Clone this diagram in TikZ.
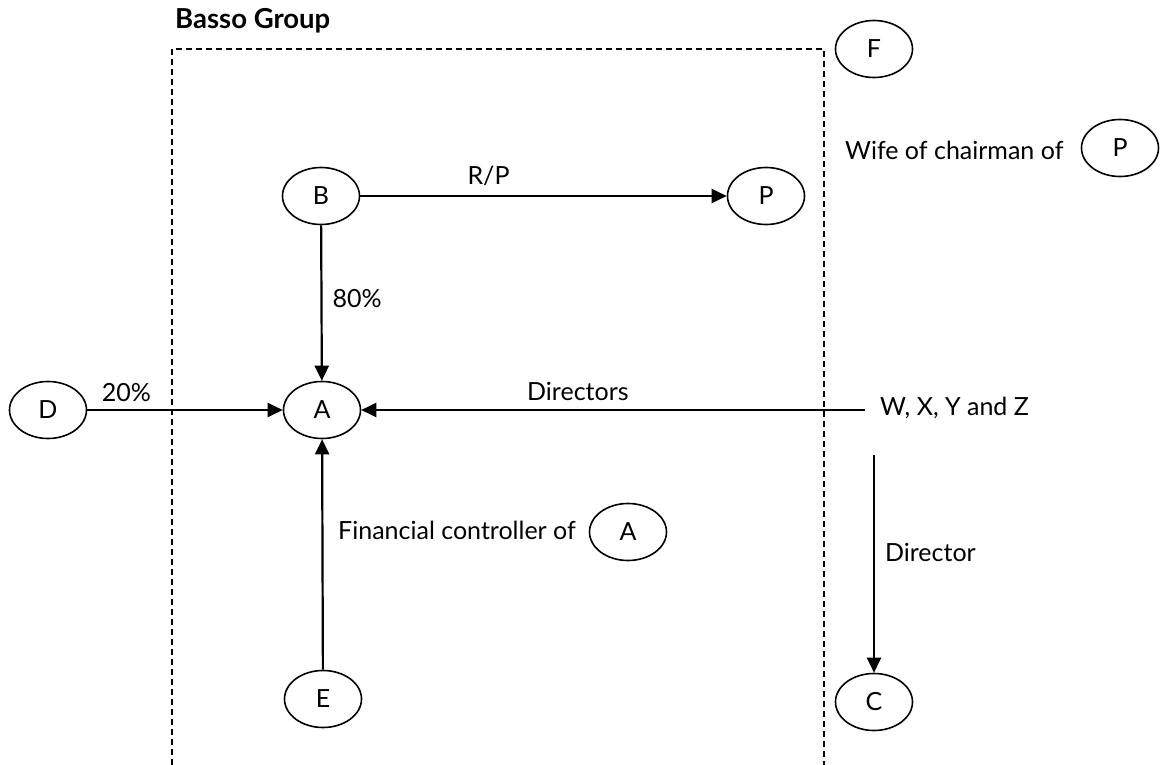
\documentclass[tikz,border=0pt]{standalone}
\usepackage{fontspec}
\setmainfont{Lato}
\usetikzlibrary{shapes.geometric,arrows.meta}
\begin{document}
\begin{tikzpicture}[x=1pt,y=-1pt,
  ent/.style={draw,line width=1.6pt,ellipse,minimum width=77pt,minimum height=57pt,inner sep=0pt,font=\fontsize{25}{28}\selectfont},
  lbl/.style={inner sep=0pt,font=\fontsize{25}{28}\selectfont},
  arr/.style={line width=2.2pt,-{Triangle[length=15pt,width=14pt]}},
  grp/.style={line width=1.4pt,dash pattern=on 6pt off 4pt}]
\useasboundingbox (0,0) rectangle (1160,765);
% group box
\draw[grp] (172,765) -- (172,49) -- (824,49) -- (824,765);
\node[lbl,anchor=west,font=\fontsize{27.5}{30}\selectfont\bfseries] (title) at (175,21) {Basso Group};
% entities
\node[ent] (B) at (321,196) {B};
\node[ent] (P) at (766,196) {P};
\node[ent] (A) at (322,410) {A};
\node[ent] (D) at (48,410) {D};
\node[ent] (E) at (323,699) {E};
\node[ent] (C) at (874,702) {C};
\node[ent] (F) at (874,49) {F};
\node[ent] (P2) at (1120,148) {P};
\node[ent] (A2) at (628,532) {A};
% texts
\node[lbl,anchor=west] (wife) at (845,150) {Wife of chairman of};
\node[lbl,anchor=west] (fin) at (338,530) {Financial controller of};
\node[lbl,anchor=west] (W) at (880,408) {W, X, Y and Z};
\coordinate (wl) at (865,410);
\coordinate (wd) at (874,455);
% connectors
\draw[arr] (B) -- node[lbl,above=9pt,pos=0.35] (rp) {R/P} (P);
\draw[arr] (B) -- node[lbl,right=10pt,pos=0.47] (p80) {80\%} (A);
\draw[arr] (D) -- node[lbl,above=7pt,pos=0.2] (p20) {20\%} (A);
\draw[arr] (wl) -- node[lbl,above=8pt,pos=0.57] (dirs) {Directors} (A);
\draw[arr] (E) -- (A);
\draw[arr] (wd) -- node[lbl,right=10pt,pos=0.45] (dir) {Director} (C);
\end{tikzpicture}
\end{document}
